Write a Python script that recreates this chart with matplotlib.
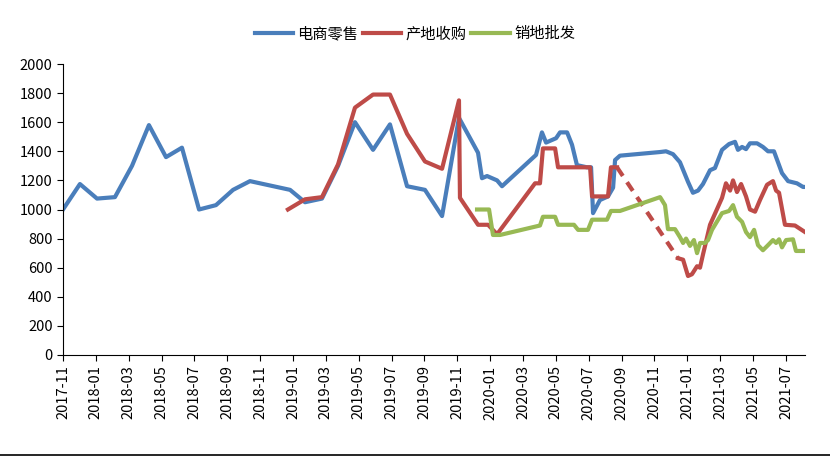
import matplotlib
matplotlib.use('Agg')
from matplotlib import pyplot as plt

plt.rcParams['font.family'] = ['Noto Sans CJK SC', 'DejaVu Sans']

# x = months since 2017-11
tick_labels = ['2017-11', '2018-01', '2018-03', '2018-05', '2018-07', '2018-09', '2018-11',
               '2019-01', '2019-03', '2019-05', '2019-07', '2019-09', '2019-11',
               '2020-01', '2020-03', '2020-05', '2020-07', '2020-09', '2020-11',
               '2021-01', '2021-03', '2021-05', '2021-07']

ec_x = [0, 1.03, 2.07, 3.16, 4.2, 5.23, 6.27, 7.24, 8.28, 9.31, 10.35, 11.38, 13.82, 14.73,
        15.76, 16.74, 17.77, 18.87, 19.9, 20.94, 22.03, 23.07, 24.1, 25.26, 25.5, 25.81, 26.42,
        26.72, 28.79, 29.15, 29.4, 30.01, 30.25, 30.68, 30.98, 31.28, 31.89, 32.14, 32.26, 32.68,
        33.17, 33.48, 33.6, 33.9, 36.34, 36.7, 37.13, 37.55, 38.04, 38.34, 38.65, 38.95, 39.38,
        39.68, 40.11, 40.54, 40.9, 41.08, 41.33, 41.57, 41.81, 42.24, 42.6, 42.91, 43.27, 43.76,
        44.13, 44.67, 45.04, 45.16]
ec_y = [1000, 1175, 1075, 1085, 1300, 1580, 1360, 1425, 1000, 1030, 1135, 1195, 1135, 1050,
        1075, 1300, 1600, 1410, 1585, 1160, 1135, 955, 1630, 1390, 1215, 1230, 1200,
        1160, 1375, 1530, 1460, 1490, 1530, 1530, 1445, 1305, 1290, 1290, 975, 1065,
        1090, 1150, 1340, 1370, 1395, 1400, 1380, 1325, 1190, 1115, 1130, 1175, 1270,
        1285, 1410, 1450, 1465, 1410, 1430, 1415, 1455, 1455, 1430, 1400, 1400, 1250,
        1195, 1180, 1155, 1155]

buy_x1 = [13.69, 14.73, 15.76, 16.74, 17.77, 18.87, 19.9, 20.94, 22.03, 23.07, 24.1, 24.16,
          25.26, 25.87, 26.42, 28.73, 29.03, 29.21, 29.95, 30.13, 32.08, 32.2, 33.17, 33.35, 33.72]
buy_y1 = [1000, 1070, 1085, 1310, 1700, 1790, 1790, 1520, 1330, 1280, 1750, 1080,
          895, 895, 830, 1180, 1180, 1420, 1420, 1290, 1290, 1090, 1090, 1290, 1290]
buy_x2 = [37.43, 37.74, 38.04, 38.28, 38.59, 38.77, 38.95, 39.38, 40.11, 40.35, 40.6, 40.78,
          41.02, 41.27, 41.57, 41.81, 42.12, 42.42, 42.85, 43.21, 43.4, 43.58, 43.94, 44.55, 45.16]
buy_y2 = [665, 655, 543, 555, 610, 600, 690, 895, 1080, 1180, 1130, 1200,
          1120, 1175, 1090, 1000, 985, 1065, 1170, 1195, 1130, 1115, 895, 890, 845]

sale_x = [25.2, 25.93, 26.17, 26.6, 29.03, 29.21, 29.95, 30.13, 31.1, 31.35, 31.95, 32.2, 33.11,
          33.35, 33.9, 36.34, 36.64, 36.82, 37.25, 37.55, 37.74, 37.92, 38.16, 38.4, 38.59, 38.77,
          39.07, 39.26, 39.5, 40.11, 40.54, 40.78, 41.02, 41.33, 41.57, 41.81, 42.06, 42.3, 42.6,
          42.91, 43.21, 43.4, 43.58, 43.76, 44.01, 44.43, 44.61, 45.16]
sale_y = [1000, 1000, 825, 825, 890, 950, 950, 895, 895, 860, 860, 930, 930,
          990, 990, 1085, 1030, 865, 865, 810, 770, 800, 750, 790, 700, 770,
          770, 790, 860, 975, 990, 1030, 950, 915, 845, 810, 860, 755, 720,
          755, 790, 770, 795, 740, 790, 795, 715, 715]

blue = '#4a7ebb'
red = '#be4b48'
green = '#98b954'

fig = plt.figure(figsize=(8.3, 4.57), dpi=100)
ax = fig.add_axes([63 / 830, 1 - 355 / 457, 742 / 830, 291 / 457])

ax.plot(ec_x, ec_y, color=blue, lw=3, label='电商零售')
ax.plot(buy_x1, buy_y1, color=red, lw=3, label='产地收购')
ax.plot([buy_x1[-1], buy_x2[0]], [buy_y1[-1], buy_y2[0]], color=red, lw=3, ls=(0, (2.5, 1.8)))
ax.plot(buy_x2, buy_y2, color=red, lw=3)
ax.plot(sale_x, sale_y, color=green, lw=3, label='销地批发')

ax.set_xlim(0, 45.16)
ax.set_ylim(0, 2000)
ax.set_yticks(range(0, 2001, 200))
ax.set_xticks(range(0, 45, 2))
ax.set_xticklabels(tick_labels, rotation=90)
ax.tick_params(labelsize=10.5, direction='out', length=4)
for s in ['top', 'right']:
    ax.spines[s].set_visible(False)

fig.legend(loc='upper center', bbox_to_anchor=(0.5, 0.975), ncol=3, frameon=False,
           fontsize=11, handlelength=2.5, columnspacing=0.3, handletextpad=0.3)
fig.add_artist(plt.Line2D([0, 1], [0.004, 0.004], color='black', lw=1.2))

fig.savefig('out.png', dpi=100)
